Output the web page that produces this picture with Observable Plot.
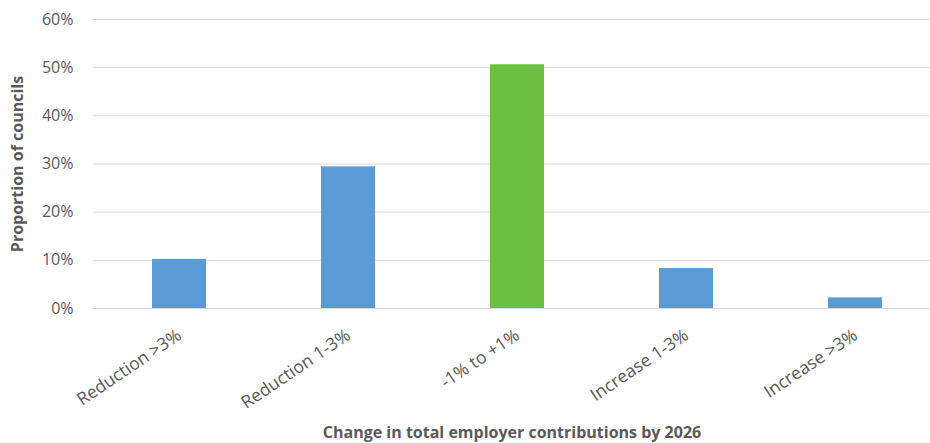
<!DOCTYPE html>
<html>
<head>
<meta charset="utf-8">
<script src="https://cdn.jsdelivr.net/npm/d3@7"></script>
<script src="https://cdn.jsdelivr.net/npm/@observablehq/plot@0.6"></script>
<style>
  html, body { margin: 0; padding: 0; background: #fff; }
  svg { display: block; }
</style>
</head>
<body>
<div id="chart"></div>
<script>
const categories = ["Reduction >3%", "Reduction 1-3%", "-1% to +1%", "Increase 1-3%", "Increase >3%"];
const proportions = [0.102, 0.294, 0.506, 0.083, 0.022];
const barColors = ["#5B9BD5", "#5B9BD5", "#6CC03F", "#5B9BD5", "#5B9BD5"];
const yTicks = [0, 0.1, 0.2, 0.3, 0.4, 0.5, 0.6];
const xTitle = "Change in total employer contributions by 2026";
const yTitle = "Proportion of councils";

const data = categories.map((c, i) => ({category: c, value: proportions[i], color: barColors[i]}));

const chart = Plot.plot({
  width: 930,
  height: 443,
  marginTop: 19,
  marginBottom: 135,
  marginLeft: 93,
  marginRight: 0,
  style: {fontFamily: "'Open Sans', sans-serif", fontSize: "16px", color: "#595959", background: "#fff"},
  x: {domain: categories, range: [93, 942], paddingInner: 0.68, paddingOuter: 0.34, align: 0.5},
  y: {domain: [0, 0.6]},
  marks: [
    Plot.ruleY(yTicks, {stroke: "#D9D9D9", strokeWidth: 1}),
    Plot.barY(data, {x: "category", y: "value", fill: "color"}),
    Plot.axisY({ticks: yTicks, tickFormat: d3.format(".0%"), tickSize: 0, tickPadding: 20,
      label: yTitle, labelAnchor: "center", labelOffset: 82, labelArrow: false,
      fontSize: 16, fill: "#595959"}),
    Plot.axisX({tickSize: 0, tickPadding: 25, tickRotate: -34, label: null, fontSize: 17.5, fill: "#595959"}),
    Plot.text([xTitle], {frameAnchor: "bottom", dy: 129, text: d => d, fontSize: 16, fontWeight: "bold", fill: "#595959", lineAnchor: "bottom"}),
  ]
});
document.getElementById("chart").appendChild(chart);
d3.select(chart).selectAll("[aria-label='y-axis label'] text").attr("font-weight", "bold").attr("font-size", 16);
</script>
</body>
</html>
